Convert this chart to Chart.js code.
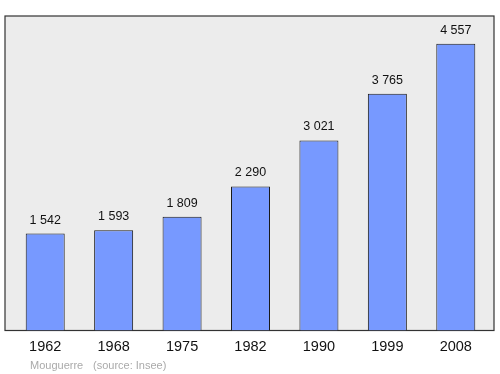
<!DOCTYPE html>
<html>
<head>
<meta charset="utf-8">
<script src="https://cdn.jsdelivr.net/npm/chart.js@4/dist/chart.umd.min.js"></script>
<style>
html,body{margin:0;padding:0;background:#fff;}
#wrap{position:relative;width:500px;height:374px;}
</style>
</head>
<body>
<div id="wrap"><canvas id="c" width="500" height="374"></canvas></div>
<script>
const years = ["1962","1968","1975","1982","1990","1999","2008"];
const population = [1542, 1593, 1809, 2290, 3021, 3765, 4557];
const footerPlace = "Mouguerre";
const footerSource = "(source: Insee)";

function fmt(v){ return String(v).replace(/\B(?=(\d{3})+(?!\d))/g, "\u00a0"); }

const frame = {
  id: "frame",
  beforeDraw(chart){
    const {ctx, chartArea:a} = chart;
    ctx.save();
    ctx.fillStyle = "#ececec";
    ctx.fillRect(a.left-6, a.top, a.right-a.left+10, a.bottom-a.top);
    ctx.strokeStyle = "#333";
    ctx.lineWidth = 1.2;
    ctx.strokeRect(a.left-6, a.top, a.right-a.left+10, a.bottom-a.top);
    ctx.restore();
  },
  afterDatasetsDraw(chart){
    const {ctx} = chart;
    const meta = chart.getDatasetMeta(0);
    ctx.save();
    ctx.font = "12.5px 'Liberation Sans', Arial, sans-serif";
    ctx.fillStyle = "#111";
    ctx.textAlign = "center";
    ctx.textBaseline = "alphabetic";
    meta.data.forEach((el,i)=>{
      ctx.fillText(fmt(population[i]), el.x, el.y - 10);
    });
    ctx.font = "11px 'Liberation Sans', Arial, sans-serif";
    ctx.fillStyle = "#aaa";
    ctx.textAlign = "left";
    ctx.fillText(footerPlace, 30, 369);
    ctx.fillText(footerSource, 93, 369);
    ctx.restore();
  }
};

new Chart(document.getElementById("c"), {
  type: "bar",
  data: {
    labels: years,
    datasets: [{
      data: population,
      backgroundColor: "#7799ff",
      borderColor: "#1a1a1a",
      borderWidth: 1,
      barPercentage: 0.57,
      categoryPercentage: 1
    }]
  },
  options: {
    responsive: false,
    animation: false,
    layout: { padding: { left: 11, right: 10, top: 16, bottom: 16.5 } },
    plugins: { legend: {display:false}, tooltip: {enabled:false}, title:{display:false} },
    scales: {
      x: {
        grid: { display: false },
        border: { display: false },
        ticks: { color: "#111", padding: 0, font: { size: 14.5, family: "'Liberation Sans', Arial, sans-serif" } },
        afterFit(scale){ scale.height = 27; }
      },
      y: { display: false, min: 0, max: 5000 }
    }
  },
  plugins: [frame]
});
</script>
</body>
</html>
